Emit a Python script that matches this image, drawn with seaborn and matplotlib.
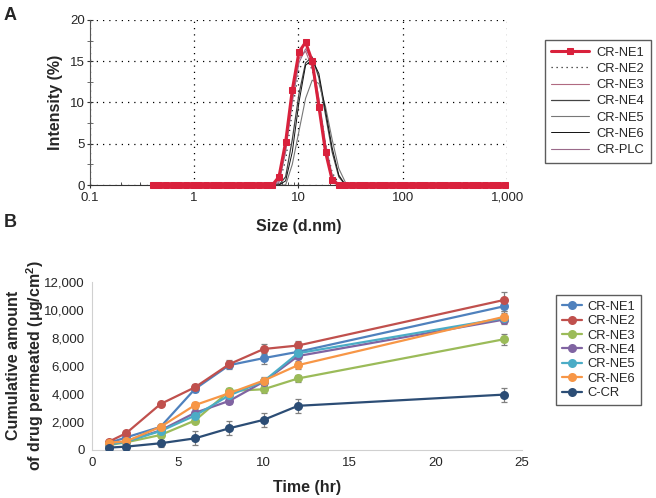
import numpy as np
import pandas as pd
import matplotlib
matplotlib.use("Agg")
import matplotlib.pyplot as plt
import matplotlib.ticker as mticker
import seaborn as sns

# ---- panel A: size distribution (Malvern size bins, d.nm) ----
sizes = [0.4, 0.4632, 0.5365, 0.6213, 0.7195, 0.8332, 0.9649, 1.117, 1.294, 1.499,
         1.736, 2.010, 2.328, 2.696, 3.122, 3.615, 4.187, 4.849, 5.615, 6.503,
         7.531, 8.721, 10.10, 11.70, 13.54, 15.69, 18.17, 21.04, 24.36, 28.21,
         32.67, 37.84, 43.82, 50.75, 58.77, 68.06, 78.82, 91.28, 105.7, 122.4,
         141.8, 164.2, 190.1, 220.2, 255.0, 295.3, 342.0, 396.1, 458.7, 531.2,
         615.1, 712.4, 825.0, 955.4]

# intensity (%) per bin, rows of 10 bins
ne1_int = [0, 0, 0, 0, 0, 0, 0, 0, 0, 0,
           0, 0, 0, 0, 0, 0, 0, 0, 0, 1.0,
           5.2, 11.5, 16.1, 17.3, 15.0, 9.5, 4.0, 0.6, 0, 0,
           0, 0, 0, 0, 0, 0, 0, 0, 0, 0,
           0, 0, 0, 0, 0, 0, 0, 0, 0, 0,
           0, 0, 0, 0]
ne2_int = [0, 0, 0, 0, 0, 0, 0, 0, 0, 0,
           0, 0, 0, 0, 0, 0, 0, 0, 0, 0.2,
           3.0, 9.0, 14.0, 15.3, 14.0, 10.0, 5.0, 1.5, 0.2, 0,
           0, 0, 0, 0, 0, 0, 0, 0, 0, 0,
           0, 0, 0, 0, 0, 0, 0, 0, 0, 0,
           0, 0, 0, 0]
ne3_int = [0, 0, 0, 0, 0, 0, 0, 0, 0, 0,
           0, 0, 0, 0, 0, 0, 0, 0, 0, 0.5,
           4.5, 10.5, 15.3, 16.2, 14.2, 9.3, 4.2, 0.9, 0, 0,
           0, 0, 0, 0, 0, 0, 0, 0, 0, 0,
           0, 0, 0, 0, 0, 0, 0, 0, 0, 0,
           0, 0, 0, 0]
ne4_int = [0, 0, 0, 0, 0, 0, 0, 0, 0, 0,
           0, 0, 0, 0, 0, 0, 0, 0, 0, 0,
           1.0, 5.5, 11.0, 14.8, 15.5, 13.0, 8.5, 4.0, 1.0, 0,
           0, 0, 0, 0, 0, 0, 0, 0, 0, 0,
           0, 0, 0, 0, 0, 0, 0, 0, 0, 0,
           0, 0, 0, 0]
ne5_int = [0, 0, 0, 0, 0, 0, 0, 0, 0, 0,
           0, 0, 0, 0, 0, 0, 0, 0, 0, 0,
           0, 2.5, 6.5, 10.5, 12.7, 12.3, 9.5, 5.5, 2.0, 0.3,
           0, 0, 0, 0, 0, 0, 0, 0, 0, 0,
           0, 0, 0, 0, 0, 0, 0, 0, 0, 0,
           0, 0, 0, 0]
ne6_int = [0, 0, 0, 0, 0, 0, 0, 0, 0, 0,
           0, 0, 0, 0, 0, 0, 0, 0, 0, 0,
           0.5, 4.0, 10.0, 14.5, 15.2, 13.5, 9.0, 4.5, 1.2, 0,
           0, 0, 0, 0, 0, 0, 0, 0, 0, 0,
           0, 0, 0, 0, 0, 0, 0, 0, 0, 0,
           0, 0, 0, 0]
plc_int = [0, 0, 0, 0, 0, 0, 0, 0, 0, 0,
           0, 0, 0, 0, 0, 0, 0, 0, 0, 0.3,
           4.0, 10.0, 14.8, 16.5, 15.0, 10.5, 5.0, 1.2, 0, 0,
           0, 0, 0, 0, 0, 0, 0, 0, 0, 0,
           0, 0, 0, 0, 0, 0, 0, 0, 0, 0,
           0, 0, 0, 0]

# ---- panel B: cumulative permeation ----
time_hr = [1, 2, 4, 6, 8, 10, 12, 24]
ne1_perm = [500, 900, 1650, 4350, 6050, 6550, 7000, 10250]
ne2_perm = [600, 1200, 3280, 4470, 6120, 7200, 7450, 10700]
ne3_perm = [350, 550, 1070, 2100, 4200, 4330, 5100, 7900]
ne4_perm = [420, 620, 1400, 2650, 3500, 4870, 6700, 9300]
ne5_perm = [400, 600, 1350, 2450, 3900, 4900, 6900, 9400]
ne6_perm = [520, 620, 1650, 3200, 4050, 4950, 6050, 9500]
ccr_perm = [170, 240, 480, 830, 1550, 2150, 3150, 3950]

ne1_sd = [100, 100, 150, 200, 300, 400, 300, 350]
ne2_sd = [100, 120, 150, 200, 300, 350, 350, 550]
ne3_sd = [80, 100, 150, 200, 250, 250, 250, 400]
ne4_sd = [80, 100, 150, 250, 250, 250, 400, 350]
ne5_sd = [80, 100, 150, 250, 250, 250, 350, 350]
ne6_sd = [80, 100, 150, 200, 250, 250, 300, 400]
ccr_sd = [80, 100, 250, 500, 500, 500, 500, 500]

sns.set_style("ticks")
plt.rcParams['font.family'] = ['Liberation Sans', 'DejaVu Sans']
plt.rcParams['axes.unicode_minus'] = False

fig = plt.figure(figsize=(6.56, 4.98), dpi=100)

# ================= panel A =================
axA = fig.add_axes([0.137, 0.6285, 0.636, 0.3315])
curves = [
    ("CR-NE2", ne2_int, dict(color="#222222", lw=0.9, ls=(0, (1, 3)))),
    ("CR-NE3", ne3_int, dict(color="#b06a80", lw=0.8, ls="-")),
    ("CR-NE4", ne4_int, dict(color="#444444", lw=0.9, ls="-")),
    ("CR-NE5", ne5_int, dict(color="#777777", lw=0.8, ls="-")),
    ("CR-NE6", ne6_int, dict(color="#111111", lw=0.7, ls="-")),
    ("CR-PLC", plc_int, dict(color="#9a6a8a", lw=0.8, ls="-")),
]
handles = {}
for name, vals, st in curves:
    df_c = pd.DataFrame({"size": sizes, "intensity": vals})
    sns.lineplot(data=df_c, x="size", y="intensity", ax=axA, color=st["color"],
                 linewidth=st["lw"], linestyle=st["ls"], zorder=2)
    handles[name] = axA.lines[-1]

df_ne1 = pd.DataFrame({"size": sizes, "intensity": ne1_int})
sns.lineplot(data=df_ne1, x="size", y="intensity", ax=axA, color="#d9213c",
             linewidth=2.2, marker="s", markersize=4, markeredgecolor="#d9213c",
             zorder=4, clip_on=False)
handles["CR-NE1"] = axA.lines[-1]

axA.set_xscale("log")
axA.set_xlim(0.1, 1000)
axA.set_ylim(0, 20)
axA.set_yticks([0, 5, 10, 15, 20])
axA.yaxis.set_minor_locator(mticker.MultipleLocator(2.5))
axA.xaxis.set_major_formatter(mticker.FuncFormatter(lambda v, p: f"{v:,.0f}" if v >= 1 else f"{v:g}"))
axA.grid(True, which="major", color="black", linestyle=(0, (1, 4)), linewidth=0.9)
axA.spines["top"].set_visible(False)
axA.spines["right"].set_visible(False)
axA.spines["left"].set_color("#555555")
axA.spines["bottom"].set_color("#333333")
axA.tick_params(axis="both", which="major", labelsize=9.5, length=5, direction="inout",
                color="#333333", pad=2.5)
axA.tick_params(axis="y", which="major", pad=1)
axA.tick_params(axis="y", which="minor", length=4, direction="inout", color="#555555")
axA.tick_params(axis="x", which="minor", length=2, direction="in", color="#333333")
axA.set_xlabel("Size (d.nm)", fontsize=11.5, fontweight="bold", labelpad=11)
axA.set_ylabel("Intensity (%)", fontsize=11.5, fontweight="bold", labelpad=5)

order_a = ["CR-NE1", "CR-NE2", "CR-NE3", "CR-NE4", "CR-NE5", "CR-NE6", "CR-PLC"]
legA = fig.legend([handles[n] for n in order_a], order_a, loc="upper left",
                  bbox_to_anchor=(545 / 656, 1 - 40 / 498), borderaxespad=0,
                  fontsize=9.3, frameon=True, fancybox=False, edgecolor="#333333",
                  handlelength=2.9, labelspacing=0.33, borderpad=0.5, handletextpad=0.6)
legA.get_frame().set_linewidth(1.0)

# ================= panel B =================
axB = fig.add_axes([0.140, 0.0964, 0.655, 0.338])
series = [
    ("CR-NE1", ne1_perm, ne1_sd, "#4F81BD"),
    ("CR-NE2", ne2_perm, ne2_sd, "#C0504D"),
    ("CR-NE3", ne3_perm, ne3_sd, "#9BBB59"),
    ("CR-NE4", ne4_perm, ne4_sd, "#8064A2"),
    ("CR-NE5", ne5_perm, ne5_sd, "#4BACC6"),
    ("CR-NE6", ne6_perm, ne6_sd, "#F79646"),
    ("C-CR", ccr_perm, ccr_sd, "#2C4D75"),
]
rows = []
for name, vals, sd, col in series:
    for t, v in zip(time_hr, vals):
        rows.append({"time": t, "amount": v, "group": name})
df_b = pd.DataFrame(rows)
palette = {name: col for name, _, _, col in series}

for name, vals, sd, col in series:
    axB.errorbar(time_hr, vals, yerr=sd, fmt="none", ecolor="#808080",
                 elinewidth=0.9, capsize=2.5, capthick=0.9, zorder=1)
sns.lineplot(data=df_b, x="time", y="amount", hue="group", palette=palette,
             hue_order=[s[0] for s in series], marker="o", markersize=6.5,
             markeredgewidth=0, linewidth=1.6, ax=axB, zorder=3)

axB.set_xlim(0, 25)
axB.set_ylim(0, 12000)
axB.set_xticks([0, 5, 10, 15, 20, 25])
axB.set_yticks(range(0, 12001, 2000))
axB.yaxis.set_major_formatter(mticker.FuncFormatter(lambda v, p: f"{v:,.0f}"))
for sp in ["top", "right"]:
    axB.spines[sp].set_visible(False)
for sp in ["left", "bottom"]:
    axB.spines[sp].set_color("#d0d0d0")
axB.tick_params(axis="both", length=0, labelsize=9.5, pad=5)
axB.set_xlabel("Time (hr)", fontsize=11.5, fontweight="bold", labelpad=8)
axB.set_ylabel("Cumulative amount\nof drug permeated (μg/cm$^\\mathregular{2}$)",
               fontsize=11.5, fontweight="bold", labelpad=-1.5, linespacing=1.2)

hB, lB = axB.get_legend_handles_labels()
axB.get_legend().remove()
legB = fig.legend(hB, lB, loc="upper left", bbox_to_anchor=(556 / 656, 1 - 295 / 498),
                  borderaxespad=0, fontsize=9.3, frameon=True, fancybox=False,
                  edgecolor="#333333", handlelength=1.6, labelspacing=0.18,
                  borderpad=0.45, handletextpad=0.4)
legB.get_frame().set_linewidth(1.0)

fig.text(0.005, 0.985, "A", fontsize=13, fontweight="bold", va="top", ha="left")
fig.text(0.005, 0.57, "B", fontsize=13, fontweight="bold", va="top", ha="left")

fig.savefig("out.png", dpi=100)
